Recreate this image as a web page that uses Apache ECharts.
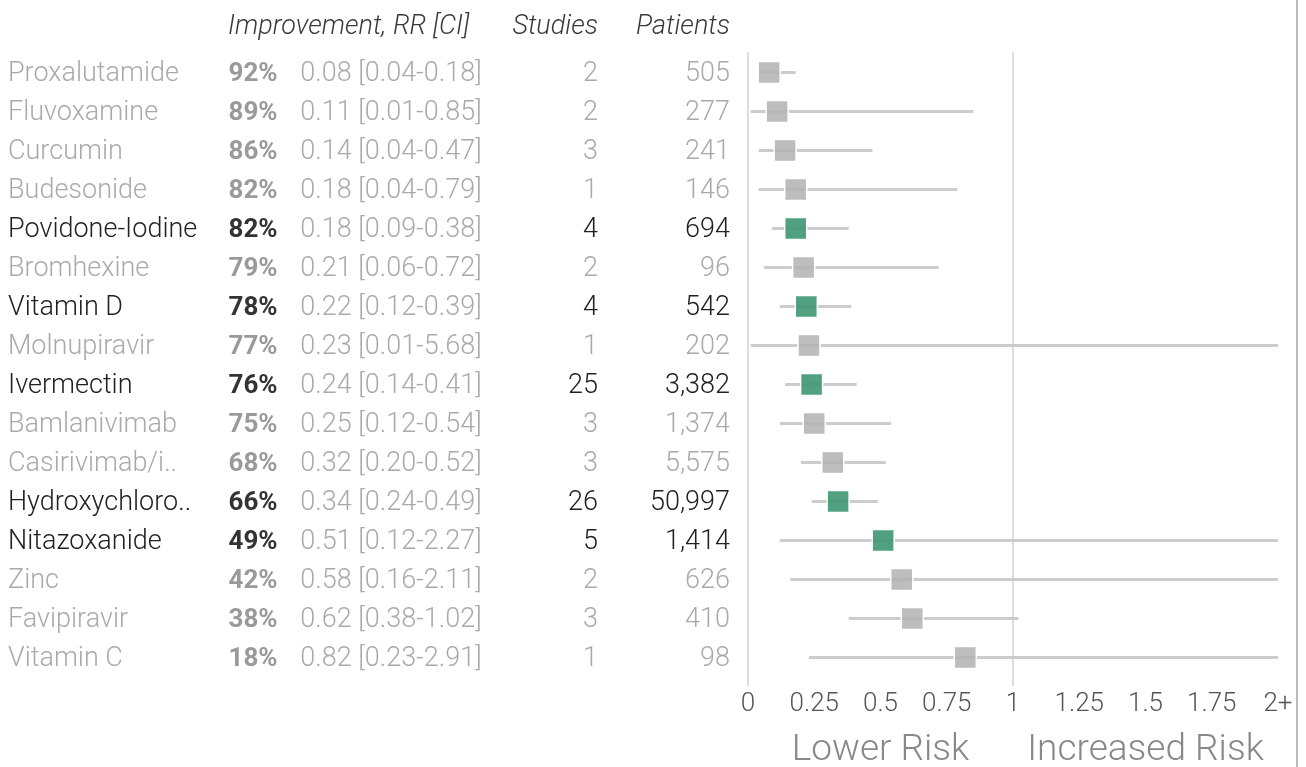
<!DOCTYPE html>
<html><head><meta charset="utf-8">
<script src="https://cdn.jsdelivr.net/npm/echarts@6/dist/echarts.min.js"></script>
<style>html,body{margin:0;padding:0;background:#fff}#c{width:1306px;height:767px}</style>
</head><body><div id="c"></div>
<script>
const treatments = ['Proxalutamide','Fluvoxamine','Curcumin','Budesonide','Povidone-Iodine','Bromhexine','Vitamin D','Molnupiravir','Ivermectin','Bamlanivimab','Casirivimab/i..','Hydroxychloro..','Nitazoxanide','Zinc','Favipiravir','Vitamin C'];
const improvement = [92,89,86,82,82,79,78,77,76,75,68,66,49,42,38,18];
const rr     = [0.08,0.11,0.14,0.18,0.18,0.21,0.22,0.23,0.24,0.25,0.32,0.34,0.51,0.58,0.62,0.82];
const ciLow  = [0.04,0.01,0.04,0.04,0.09,0.06,0.12,0.01,0.14,0.12,0.20,0.24,0.12,0.16,0.38,0.23];
const ciHigh = [0.18,0.85,0.47,0.79,0.38,0.72,0.39,5.68,0.41,0.54,0.52,0.49,2.27,2.11,1.02,2.91];
const studies  = [2,2,3,1,4,2,4,1,25,3,3,26,5,2,3,1];
const patients = [505,277,241,146,694,96,542,202,3382,1374,5575,50997,1414,626,410,98];
const highlighted = [false,false,false,false,true,false,true,false,true,false,false,true,true,false,false,false];
const xTickLabels = ['0','0.25','0.5','0.75','1','1.25','1.5','1.75','2+'];
const headers = ['Improvement, RR [CI]','Studies','Patients'];
const sideLabels = ['Lower Risk','Increased Risk'];

const XMAX = 2;
const FONT = 'Roboto, "Noto Sans", sans-serif';
const GREY = '#aaaaaa', DARK = '#222222';
const FS = 27;

const data = rr.map((v,i)=>[ciLow[i], Math.min(ciHigh[i], XMAX), v, i, highlighted[i]?1:0]);

const rich = {
  n:  {width:220, align:'left',  fontSize:FS, fontWeight:300, color:GREY, fontFamily:FONT},
  nH: {width:220, align:'left',  fontSize:FS, fontWeight:300, color:DARK, fontFamily:FONT},
  p:  {width:50,  align:'right', fontSize:26, fontWeight:700, color:'#9a9a9a', fontFamily:FONT},
  pH: {width:50,  align:'right', fontSize:26, fontWeight:700, color:'#333333', fontFamily:FONT},
  r:  {width:194, align:'left',  fontSize:FS, fontWeight:300, color:GREY, fontFamily:FONT, padding:[0,0,0,16]},
  s:  {width:110, align:'right', fontSize:FS, fontWeight:300, color:GREY, fontFamily:FONT},
  sH: {width:110, align:'right', fontSize:FS, fontWeight:300, color:DARK, fontFamily:FONT},
  t:  {width:132, align:'right', fontSize:FS, fontWeight:300, color:GREY, fontFamily:FONT},
  tH: {width:132, align:'right', fontSize:FS, fontWeight:300, color:DARK, fontFamily:FONT}
};

const chart = echarts.init(document.getElementById('c'), null, {renderer:'canvas'});
chart.setOption({
  animation:false,
  backgroundColor:'#fff',
  grid:{left:748, right:28, top:53, height:624, containLabel:false},
  xAxis:{
    type:'value', min:0, max:XMAX, interval:0.25,
    axisLine:{show:false}, axisTick:{show:false}, splitLine:{show:false},
    axisLabel:{
      margin:14, fontSize:26, color:'#555', fontFamily:FONT, fontWeight:300,
      formatter:(v)=>{ const k=Math.round(v/0.25); return xTickLabels[k]!==undefined?xTickLabels[k]:''; }
    }
  },
  yAxis:{
    type:'category', inverse:true, data:treatments,
    axisLine:{show:false}, axisTick:{show:false}, splitLine:{show:false},
    axisLabel:{
      margin:18, align:'right', interval:0, padding:[4,0,0,0],
      formatter:(val, idx)=>{
        const h = highlighted[idx] ? 'H' : '';
        const ci = rr[idx].toFixed(2)+' ['+ciLow[idx].toFixed(2)+'-'+ciHigh[idx].toFixed(2)+']';
        return '{n'+h+'|'+treatments[idx]+'}{p'+h+'|'+improvement[idx]+'%}{r|'+ci+'}{s'+h+'|'+studies[idx]+'}{t'+h+'|'+patients[idx].toLocaleString('en-US')+'}';
      },
      rich: rich
    }
  },
  series:[{
    type:'custom',
    data:data,
    encode:{x:[0,1,2], y:3},
    renderItem:(params, api)=>{
      const row = api.value(3);
      const a = api.coord([api.value(0), row]);
      const b = api.coord([api.value(1), row]);
      const c = api.coord([api.value(2), row]);
      const hi = api.value(4) === 1;
      const s = 22;
      return {type:'group', children:[
        {type:'line', shape:{x1:a[0], y1:a[1], x2:b[0], y2:b[1]}, style:{stroke:'#cccccc', lineWidth:3}},
        {type:'rect', shape:{x:c[0]-s/2, y:c[1]-s/2, width:s, height:s},
         style:{fill: hi ? 'rgba(62,150,114,0.9)' : 'rgba(178,178,178,0.85)', stroke:'#fff', lineWidth:1.5}}
      ]};
    }
  }]
});

const x0 = chart.convertToPixel({xAxisIndex:0}, 0);
const x1 = chart.convertToPixel({xAxisIndex:0}, 1);
const xl = chart.convertToPixel({xAxisIndex:0}, 0.5);
const xr = chart.convertToPixel({xAxisIndex:0}, 1.5);
const hdrFont = {fontSize:27, fontStyle:'italic', fontWeight:300, fontFamily:FONT};
chart.setOption({
  graphic:[
    {type:'line', z:-1, shape:{x1:x0, y1:52, x2:x0, y2:686}, style:{stroke:'#dddddd', lineWidth:2}},
    {type:'line', z:-1, shape:{x1:x1, y1:52, x2:x1, y2:686}, style:{stroke:'#dddddd', lineWidth:2}},
    {type:'line', shape:{x1:1297, y1:0, x2:1297, y2:767}, style:{stroke:'#bbbbbb', lineWidth:2}},
    {type:'text', x:228, y:27, style:Object.assign({text:headers[0], fill:'#3a3a3a', align:'left', verticalAlign:'middle'}, hdrFont)},
    {type:'text', x:598, y:27, style:Object.assign({text:headers[1], fill:'#3a3a3a', align:'right', verticalAlign:'middle'}, hdrFont)},
    {type:'text', x:730, y:27, style:Object.assign({text:headers[2], fill:'#3a3a3a', align:'right', verticalAlign:'middle'}, hdrFont)},
    {type:'text', x:xl, y:751, style:{text:sideLabels[0], fill:'#888', align:'center', verticalAlign:'middle', fontSize:37, fontWeight:300, fontFamily:FONT}},
    {type:'text', x:xr, y:751, style:{text:sideLabels[1], fill:'#888', align:'center', verticalAlign:'middle', fontSize:37, fontWeight:300, fontFamily:FONT}}
  ]
});
</script></body></html>
